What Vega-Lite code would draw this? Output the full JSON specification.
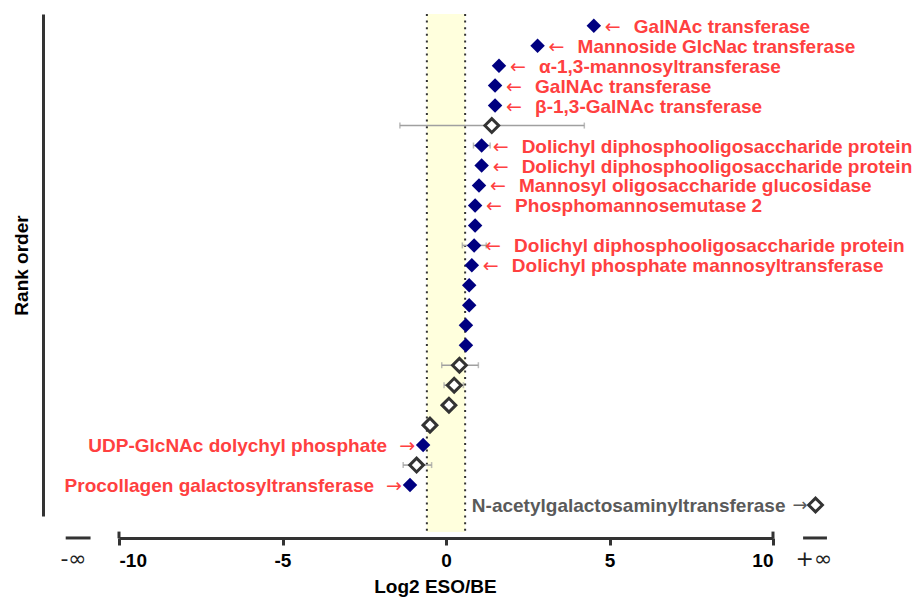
{
  "$schema": "https://vega.github.io/schema/vega-lite/v6.json",
  "autosize": {"type": "none"},
  "width": 654,
  "height": 502,
  "padding": {"left": 119, "top": 14, "right": 151, "bottom": 81},
  "background": "white",
  "config": {
    "view": {"stroke": null},
    "font": "Liberation Sans",
    "axisX": {
      "offset": 22, "domainColor": "#333333", "domainWidth": 3,
      "tickColor": "#333333", "tickWidth": 3, "tickSize": 7,
      "labelFontSize": 19, "labelFontWeight": "bold", "labelColor": "#000000", "labelPadding": 6,
      "labelExpr": "'' + datum.value",
      "grid": false, "titleFontSize": 19, "titleFontWeight": "bold", "titleColor": "#000000", "titlePadding": 7,
      "titleX": 316
    },
    "axisY": {
      "offset": 76, "ticks": false, "labels": false, "grid": false,
      "domainColor": "#333333", "domainWidth": 3,
      "titleFontSize": 19, "titleFontWeight": "bold", "titleColor": "#000000", "titlePadding": 12
    }
  },
  "datasets": {
    "genes": [
      {"rank": 1, "value": 4.52, "type": "filled", "note": "GalNAc transferase", "dir": "right"},
      {"rank": 2, "value": 2.80, "type": "filled", "note": "Mannoside GlcNac transferase", "dir": "right"},
      {"rank": 3, "value": 1.62, "type": "filled", "note": "α-1,3-mannosyltransferase", "dir": "right"},
      {"rank": 4, "value": 1.50, "type": "filled", "note": "GalNAc transferase", "dir": "right"},
      {"rank": 5, "value": 1.50, "type": "filled", "note": "β-1,3-GalNAc transferase", "dir": "right"},
      {"rank": 6, "value": 1.40, "type": "open", "lo": -1.41, "hi": 4.23},
      {"rank": 7, "value": 1.09, "type": "filled", "lo": 0.84, "hi": 1.35, "note": "Dolichyl diphosphooligosaccharide protein", "dir": "right"},
      {"rank": 8, "value": 1.09, "type": "filled", "note": "Dolichyl diphosphooligosaccharide protein", "dir": "right"},
      {"rank": 9, "value": 1.01, "type": "filled", "note": "Mannosyl oligosaccharide glucosidase", "dir": "right"},
      {"rank": 10, "value": 0.89, "type": "filled", "note": "Phosphomannosemutase 2", "dir": "right"},
      {"rank": 11, "value": 0.89, "type": "filled"},
      {"rank": 12, "value": 0.86, "type": "filled", "lo": 0.50, "hi": 1.23, "note": "Dolichyl diphosphooligosaccharide protein", "dir": "right"},
      {"rank": 13, "value": 0.79, "type": "filled", "note": "Dolichyl phosphate mannosyltransferase", "dir": "right"},
      {"rank": 14, "value": 0.71, "type": "filled"},
      {"rank": 15, "value": 0.71, "type": "filled"},
      {"rank": 16, "value": 0.61, "type": "filled"},
      {"rank": 17, "value": 0.61, "type": "filled"},
      {"rank": 18, "value": 0.41, "type": "open", "lo": -0.13, "hi": 0.99},
      {"rank": 19, "value": 0.25, "type": "open", "lo": -0.06, "hi": 0.53},
      {"rank": 20, "value": 0.09, "type": "open"},
      {"rank": 21, "value": -0.49, "type": "open"},
      {"rank": 22, "value": -0.70, "type": "filled", "note": "UDP-GlcNAc dolychyl phosphate", "dir": "left"},
      {"rank": 23, "value": -0.90, "type": "open", "lo": -1.31, "hi": -0.44},
      {"rank": 24, "value": -1.10, "type": "filled", "note": "Procollagen galactosyltransferase", "dir": "left"},
      {"rank": 25, "value": 11.3, "type": "open", "note": "N-acetylgalactosaminyltransferase", "dir": "infinite"}
    ]
  },
  "layer": [
    {
      "data": {"values": [{"lo": -0.585, "hi": 0.585}]},
      "mark": {"type": "rect", "fill": "#ffffdd"},
      "encoding": {
        "x": {"field": "lo", "type": "quantitative", "title": "Log2 ESO/BE", "scale": {"domain": [-10, 10], "nice": false, "zero": false}, "axis": {"values": [-10, -5, 0, 5, 10]}},
        "x2": {"field": "hi"},
        "y": {"datum": 0.414, "type": "quantitative", "title": "Rank order", "scale": {"domain": [0.414, 25.55], "reverse": true, "nice": false, "zero": false}},
        "y2": {"datum": 26.35}
      }
    },
    {
      "data": {"values": [{"v": -0.585}, {"v": 0.585}]},
      "mark": {"type": "rule", "color": "#333333", "strokeWidth": 2, "strokeDash": [2, 4.6]},
      "encoding": {
        "x": {"field": "v", "type": "quantitative", "title": "Log2 ESO/BE", "scale": {"domain": [-10, 10], "nice": false, "zero": false}, "axis": {"values": [-10, -5, 0, 5, 10]}},
        "y": {"datum": 0.414, "type": "quantitative", "title": "Rank order", "scale": {"domain": [0.414, 25.55], "reverse": true, "nice": false, "zero": false}},
        "y2": {"datum": 26.35}
      }
    },
    {
      "data": {"name": "genes"},
      "transform": [{"filter": "isValid(datum.lo)"}],
      "mark": {"type": "rule", "color": "#a0a0a0", "strokeWidth": 1.5},
      "encoding": {
        "x": {"field": "lo", "type": "quantitative", "title": "Log2 ESO/BE", "scale": {"domain": [-10, 10], "nice": false, "zero": false}, "axis": {"values": [-10, -5, 0, 5, 10]}},
        "x2": {"field": "hi"},
        "y": {"field": "rank", "type": "quantitative", "title": "Rank order", "scale": {"domain": [0.414, 25.55], "reverse": true, "nice": false, "zero": false}}
      }
    },
    {
      "data": {"name": "genes"},
      "transform": [{"filter": "isValid(datum.lo)"}],
      "mark": {"type": "tick", "orient": "vertical", "color": "#a0a0a0", "thickness": 1.5, "size": 6},
      "encoding": {
        "x": {"field": "lo", "type": "quantitative", "title": "Log2 ESO/BE", "scale": {"domain": [-10, 10], "nice": false, "zero": false}, "axis": {"values": [-10, -5, 0, 5, 10]}},
        "y": {"field": "rank", "type": "quantitative", "title": "Rank order", "scale": {"domain": [0.414, 25.55], "reverse": true, "nice": false, "zero": false}}
      }
    },
    {
      "data": {"name": "genes"},
      "transform": [{"filter": "isValid(datum.hi)"}],
      "mark": {"type": "tick", "orient": "vertical", "color": "#a0a0a0", "thickness": 1.5, "size": 6},
      "encoding": {
        "x": {"field": "hi", "type": "quantitative", "title": "Log2 ESO/BE", "scale": {"domain": [-10, 10], "nice": false, "zero": false}, "axis": {"values": [-10, -5, 0, 5, 10]}},
        "y": {"field": "rank", "type": "quantitative", "title": "Rank order", "scale": {"domain": [0.414, 25.55], "reverse": true, "nice": false, "zero": false}}
      }
    },
    {
      "data": {"name": "genes"},
      "transform": [{"filter": "datum.type === 'filled'"}],
      "mark": {"type": "point", "shape": "diamond", "filled": true, "fill": "#000080", "stroke": null, "size": 210, "opacity": 1},
      "encoding": {
        "x": {"field": "value", "type": "quantitative", "title": "Log2 ESO/BE", "scale": {"domain": [-10, 10], "nice": false, "zero": false}, "axis": {"values": [-10, -5, 0, 5, 10]}},
        "y": {"field": "rank", "type": "quantitative", "title": "Rank order", "scale": {"domain": [0.414, 25.55], "reverse": true, "nice": false, "zero": false}}
      }
    },
    {
      "data": {"name": "genes"},
      "transform": [{"filter": "datum.type === 'open'"}],
      "mark": {"type": "point", "shape": "diamond", "filled": false, "fill": "white", "stroke": "#333333", "strokeWidth": 3, "size": 190, "opacity": 1},
      "encoding": {
        "x": {"field": "value", "type": "quantitative", "title": "Log2 ESO/BE", "scale": {"domain": [-10, 10], "nice": false, "zero": false}, "axis": {"values": [-10, -5, 0, 5, 10]}},
        "y": {"field": "rank", "type": "quantitative", "title": "Rank order", "scale": {"domain": [0.414, 25.55], "reverse": true, "nice": false, "zero": false}}
      }
    },
    {
      "data": {"name": "genes"},
      "transform": [{"filter": "datum.dir === 'right'"}],
      "mark": {"type": "text", "align": "left", "baseline": "middle", "dx": 11, "dy": 1, "fontSize": 19, "font": "DejaVu Sans", "fill": "#ff4040", "text": "←"},
      "encoding": {
        "x": {"field": "value", "type": "quantitative", "title": "Log2 ESO/BE", "scale": {"domain": [-10, 10], "nice": false, "zero": false}, "axis": {"values": [-10, -5, 0, 5, 10]}},
        "y": {"field": "rank", "type": "quantitative", "title": "Rank order", "scale": {"domain": [0.414, 25.55], "reverse": true, "nice": false, "zero": false}}
      }
    },
    {
      "data": {"name": "genes"},
      "transform": [{"filter": "datum.dir === 'right'"}],
      "mark": {"type": "text", "align": "left", "baseline": "middle", "dx": 40, "dy": 1, "fontSize": 19, "fontWeight": "bold", "fill": "#ff4040"},
      "encoding": {
        "x": {"field": "value", "type": "quantitative", "title": "Log2 ESO/BE", "scale": {"domain": [-10, 10], "nice": false, "zero": false}, "axis": {"values": [-10, -5, 0, 5, 10]}},
        "y": {"field": "rank", "type": "quantitative", "title": "Rank order", "scale": {"domain": [0.414, 25.55], "reverse": true, "nice": false, "zero": false}},
        "text": {"field": "note"}
      }
    },
    {
      "data": {"name": "genes"},
      "transform": [{"filter": "datum.dir === 'left'"}],
      "mark": {"type": "text", "align": "right", "baseline": "middle", "dx": -8, "dy": 1, "fontSize": 19, "font": "DejaVu Sans", "fill": "#ff4040", "text": "→"},
      "encoding": {
        "x": {"field": "value", "type": "quantitative", "title": "Log2 ESO/BE", "scale": {"domain": [-10, 10], "nice": false, "zero": false}, "axis": {"values": [-10, -5, 0, 5, 10]}},
        "y": {"field": "rank", "type": "quantitative", "title": "Rank order", "scale": {"domain": [0.414, 25.55], "reverse": true, "nice": false, "zero": false}}
      }
    },
    {
      "data": {"name": "genes"},
      "transform": [{"filter": "datum.dir === 'left'"}],
      "mark": {"type": "text", "align": "right", "baseline": "middle", "dx": -36, "dy": 1, "fontSize": 19, "fontWeight": "bold", "fill": "#ff4040"},
      "encoding": {
        "x": {"field": "value", "type": "quantitative", "title": "Log2 ESO/BE", "scale": {"domain": [-10, 10], "nice": false, "zero": false}, "axis": {"values": [-10, -5, 0, 5, 10]}},
        "y": {"field": "rank", "type": "quantitative", "title": "Rank order", "scale": {"domain": [0.414, 25.55], "reverse": true, "nice": false, "zero": false}},
        "text": {"field": "note"}
      }
    },
    {
      "data": {"name": "genes"},
      "transform": [{"filter": "datum.dir === 'infinite'"}],
      "mark": {"type": "text", "align": "right", "baseline": "middle", "dx": -8, "dy": 1, "fontSize": 18, "font": "DejaVu Sans", "fill": "#5a5a5a", "text": "→"},
      "encoding": {
        "x": {"field": "value", "type": "quantitative", "title": "Log2 ESO/BE", "scale": {"domain": [-10, 10], "nice": false, "zero": false}, "axis": {"values": [-10, -5, 0, 5, 10]}},
        "y": {"field": "rank", "type": "quantitative", "title": "Rank order", "scale": {"domain": [0.414, 25.55], "reverse": true, "nice": false, "zero": false}}
      }
    },
    {
      "data": {"name": "genes"},
      "transform": [{"filter": "datum.dir === 'infinite'"}],
      "mark": {"type": "text", "align": "right", "baseline": "middle", "dx": -30, "dy": 1, "fontSize": 19, "fontWeight": "bold", "fill": "#5a5a5a"},
      "encoding": {
        "x": {"field": "value", "type": "quantitative", "title": "Log2 ESO/BE", "scale": {"domain": [-10, 10], "nice": false, "zero": false}, "axis": {"values": [-10, -5, 0, 5, 10]}},
        "y": {"field": "rank", "type": "quantitative", "title": "Rank order", "scale": {"domain": [0.414, 25.55], "reverse": true, "nice": false, "zero": false}},
        "text": {"field": "note"}
      }
    },
    {
      "data": {"values": [{"v": -10}, {"v": 10}]},
      "mark": {"type": "rule", "color": "#333333", "strokeWidth": 3},
      "encoding": {
        "x": {"field": "v", "type": "quantitative", "title": "Log2 ESO/BE", "scale": {"domain": [-10, 10], "nice": false, "zero": false}, "axis": {"values": [-10, -5, 0, 5, 10]}},
        "y": {"datum": 26.33, "type": "quantitative", "title": "Rank order", "scale": {"domain": [0.414, 25.55], "reverse": true, "nice": false, "zero": false}},
        "y2": {"datum": 26.67}
      }
    },
    {
      "data": {"values": [{"a": -11.63, "b": -10.87}, {"a": 10.92, "b": 11.65}]},
      "mark": {"type": "rule", "color": "#333333", "strokeWidth": 3},
      "encoding": {
        "x": {"field": "a", "type": "quantitative", "title": "Log2 ESO/BE", "scale": {"domain": [-10, 10], "nice": false, "zero": false}, "axis": {"values": [-10, -5, 0, 5, 10]}},
        "x2": {"field": "b"},
        "y": {"datum": 26.65, "type": "quantitative", "title": "Rank order", "scale": {"domain": [0.414, 25.55], "reverse": true, "nice": false, "zero": false}}
      }
    },
    {
      "data": {"values": [{"v": -11.39, "t": "-∞"}, {"v": 11.25, "t": "+∞"}]},
      "mark": {"type": "text", "align": "center", "baseline": "middle", "fontSize": 22, "font": "DejaVu Sans", "fill": "#222222"},
      "encoding": {
        "x": {"field": "v", "type": "quantitative", "title": "Log2 ESO/BE", "scale": {"domain": [-10, 10], "nice": false, "zero": false}, "axis": {"values": [-10, -5, 0, 5, 10]}},
        "y": {"datum": 27.7, "type": "quantitative", "title": "Rank order", "scale": {"domain": [0.414, 25.55], "reverse": true, "nice": false, "zero": false}},
        "text": {"field": "t"}
      }
    }
  ]
}
